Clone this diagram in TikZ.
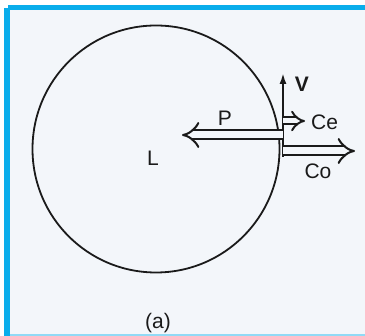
\documentclass[tikz,border=0pt]{standalone}
\usepackage{fontspec}
\setmainfont{Liberation Sans}
\usepackage{tikz}
\usetikzlibrary{positioning,arrows.meta,calc}
\definecolor{frameblue}{HTML}{0AADEB}
\definecolor{paper}{HTML}{F3F6FA}
\definecolor{ink}{HTML}{1A1A1A}

\begin{document}
\begin{tikzpicture}[
        x=1pt, y=-1pt,
        tag/.style={inner sep=0pt, text=ink, font=\fontsize{21}{24}\selectfont},
        line/.style={-{Latex[length=11pt, width=7pt]}, line width=2pt, draw=ink},
        dblarrow/.style={double=paper, double distance=6pt, line width=2pt, draw=ink, -{Implies}}
    ]
        \useasboundingbox (0,0) rectangle (365,336);
        \fill[white] (0,0) rectangle (365,336);
        \fill[paper] (10,10) rectangle (365,334);
        \fill[frameblue] (4,8) rectangle (10,336);
        \fill[frameblue] (8,5) rectangle (365,10);
        \fill[frameblue!45] (10,334) rectangle (365,336);

        \node[draw=ink, circle, line width=1.8pt, minimum size=247pt, inner sep=0pt] (disk) at (156,149) {};

        \coordinate (vbase) at (283,157);
        \coordinate (vtip) at (283,73);
        \coordinate (pstart) at (283,135);
        \coordinate (ptip) at (182,135);
        \coordinate (cestart) at (283,121);
        \coordinate (cetip) at (305,121);
        \coordinate (costart) at (283,151);
        \coordinate (cotip) at (355,151);

        \draw[line] (vbase) -- (vtip);
        \draw[dblarrow, double distance=7pt] (pstart) -- (ptip);
        \draw[dblarrow, double distance=5pt] (cestart) -- (cetip);
        \draw[dblarrow, double distance=7pt] (costart) -- (cotip);

        \node[tag] (vlabel) at (302,84) {\textbf{V}};
        \node[tag] (plabel) at (225,118) {P};
        \node[tag] (llabel) at (153,158) {L};
        \node[tag, anchor=west] (celabel) at (311,122) {Ce};
        \node[tag] (colabel) at (318,171) {Co};
        \node[tag] (caption) at (158,323) {(a)};
    \end{tikzpicture}
\end{document}
